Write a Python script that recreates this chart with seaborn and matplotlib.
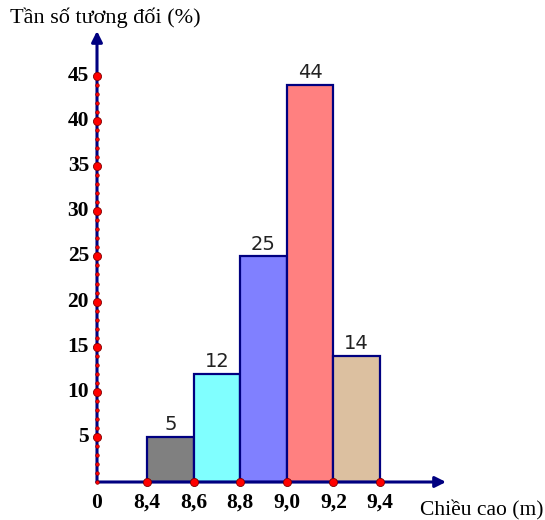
import matplotlib
matplotlib.use("Agg")
import matplotlib.pyplot as plt
import seaborn as sns
import numpy as np

# Class edges (m) and relative frequencies (%)
edges = [8.4, 8.6, 8.8, 9.0, 9.2, 9.4]
freqs = [5, 12, 25, 44, 14]
bar_colors = ["#808080", "#80FFFF", "#8080FF", "#FF8080", "#DCC0A0"]
x_tick_labels = ["8,4", "8,6", "8,8", "9,0", "9,2", "9,4"]
y_ticks = [5, 10, 15, 20, 25, 30, 35, 40, 45]

navy = "#000080"
sns.set_theme(style="white")
plt.rcParams["font.family"] = ["Liberation Serif", "DejaVu Serif"]

fig = plt.figure(figsize=(5.45, 5.2), dpi=100)
ax = fig.add_axes([0, 0, 1, 1])

# pixel-like layout: the vertical axis sits a little left of the first class
x0 = 8.4 - 0.2 * 50 / 46.6          # position of the origin on the x scale
px = 233.0                           # pixels per metre
py = 9.022                           # pixels per percent
ax.set_xlim(x0 - 97 / px, x0 + (545 - 97) / px)
ax.set_ylim(-(520 - 482) / py, 482 / py)
ax.axis("off")

mids = [(a + b) / 2 for a, b in zip(edges[:-1], edges[1:])]
sns.histplot(x=mids, weights=freqs, bins=edges, stat="count", ax=ax,
             edgecolor=navy, linewidth=1.6, alpha=1, zorder=2)
for patch, c in zip(ax.patches, bar_colors):
    patch.set_facecolor(c)
    patch.set_edgecolor(navy)

# value labels above each bar
for m, f in zip(mids, freqs):
    ax.text(m, f + 0.3, str(f), ha="center", va="bottom", fontsize=14,
            family="DejaVu Sans", color="#222222", zorder=5)

# axes with arrow heads
x_end = x0 + (446 - 97) / px
y_end = (482 - 31) / py
ax.annotate("", xy=(x_end, 0), xytext=(x0, 0),
            arrowprops=dict(arrowstyle="-|>", color=navy, lw=2.2,
                            mutation_scale=16, shrinkA=0, shrinkB=0), zorder=3)
ax.annotate("", xy=(x0, y_end), xytext=(x0, 0),
            arrowprops=dict(arrowstyle="-|>", color=navy, lw=2.2,
                            mutation_scale=16, shrinkA=0, shrinkB=0), zorder=3)

# dots on the vertical axis: small each unit, large at labelled ticks
small = np.arange(0, 46)
ax.scatter(np.full(len(small), x0), small, s=7, color="red",
           edgecolor="#800000", linewidth=0.4, zorder=6)
ax.scatter(np.full(len(y_ticks), x0), y_ticks, s=34, color="red",
           edgecolor="#800000", linewidth=0.6, zorder=7)
# dots on the horizontal axis at class edges
ax.scatter(edges, np.zeros(len(edges)), s=34, color="red",
           edgecolor="#800000", linewidth=0.6, zorder=7)

for t in y_ticks:
    ax.text(x0 - 8 / px, t, str(t), ha="right", va="center",
            fontsize=15.5, fontweight="bold", color="black")
for e, lab in zip(edges, x_tick_labels):
    ax.text(e, -21 / py, lab, ha="center", va="center",
            fontsize=15.5, fontweight="bold", color="black")
ax.text(x0, -21 / py, "0", ha="center", va="center",
        fontsize=15.5, fontweight="bold", color="black")

ax.text(x0 - 87 / px, (482 - 18) / py, "Tần số tương đối (%)",
        ha="left", va="center", fontsize=16, color="black")
ax.text(x0 + (420 - 97) / px, -(510 - 482) / py, "Chiều cao (m)",
        ha="left", va="center", fontsize=15.5, color="black")

fig.savefig("out.png", dpi=100)
